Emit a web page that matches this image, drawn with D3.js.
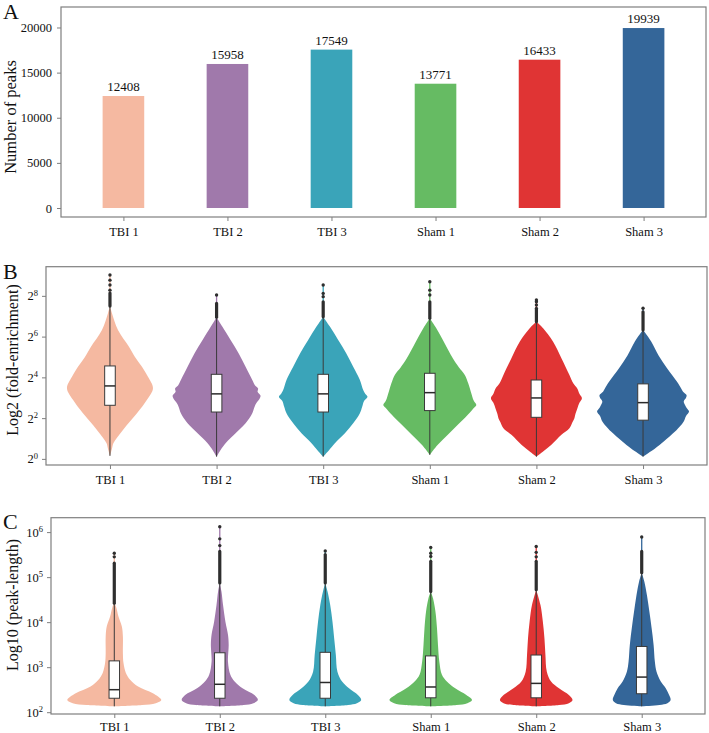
<!DOCTYPE html>
<html><head><meta charset="utf-8">
<script src="https://cdn.jsdelivr.net/npm/d3@7"></script>
<style>
body{margin:0;background:#fff}
text{font-family:"Liberation Serif","Times New Roman",serif;fill:#111}
</style>
</head><body><svg id="c" width="709" height="733"></svg>
<script>
const categories = ["TBI 1","TBI 2","TBI 3","Sham 1","Sham 2","Sham 3"];
const colors = ["#F5B9A1","#A079AB","#3AA4B9","#66BB63","#E03434","#346699"];

// Panel A
const peakCounts = [12408,15958,17549,13771,16433,19939];
const countTicks = [0,5000,10000,15000,20000];

// Panel B : log2(fold-enrichment)
const log2Ticks = [0,2,4,6,8];
// [whisker low, Q1, median, Q3, whisker high]
const foldBoxes = [
  [0.15,2.63,3.58,4.56,7.5],
  [0.11,2.30,3.19,4.15,6.95],
  [0.11,2.30,3.19,4.15,6.98],
  [0.2,2.37,3.25,4.2,6.9],
  [0.11,2.04,2.99,3.87,6.73],
  [0.11,1.90,2.76,3.68,6.32]
];
// [level, density]
const foldViolins = [
  [[0.15,0],[0.5,2],[0.78,3.5],[1.42,13],[2.24,27],[2.9,37],[3.47,43],[4.03,38],[4.52,32],[5.0,25],[5.5,19],[6.32,8],[7.15,2],[7.5,0]],
  [[0.11,0],[0.44,4],[0.77,9],[1.26,19],[1.75,29],[2.24,35.7],[2.56,38],[2.75,40],[2.95,43],[3.1,44],[3.3,41],[3.45,41.5],[3.6,38.5],[3.87,35.7],[4.52,29],[5.18,22],[5.83,14],[6.49,5.7],[6.95,0]],
  [[0.11,0],[0.44,6],[0.77,11.7],[1.26,21.7],[1.75,30],[2.24,36.7],[2.56,39],[2.85,41],[3.05,44.3],[3.2,42],[3.38,40],[3.87,36.7],[4.52,30],[5.18,23],[5.83,15],[6.49,6.7],[6.98,0]],
  [[0.2,0],[0.69,8],[1.18,18],[1.67,28],[2.16,38],[2.5,44],[2.65,46.5],[2.85,44],[3.3,41],[3.7,38.5],[4.12,35],[4.5,29],[4.94,23],[5.75,14],[6.41,6.5],[6.9,0]],
  [[0.11,0],[0.36,6.7],[0.69,15],[1.18,25],[1.5,33],[1.8,36],[2.0,38],[2.2,39],[2.49,41],[2.75,43],[2.98,45.5],[3.2,43],[3.47,40.7],[3.7,37],[4.12,33],[4.94,25],[5.75,16.7],[6.41,6.7],[6.73,0]],
  [[0.11,0],[0.52,12.3],[0.85,20.7],[1.34,32],[1.6,37],[1.83,40.7],[2.1,43],[2.32,46],[2.55,43],[2.81,40.7],[3.0,43],[3.14,43.5],[3.3,40],[3.47,38],[3.79,34],[4.45,24],[5.06,15.7],[5.75,8.3],[6.32,0]]
];
const foldOutlierRuns = [[7.5,8.14],[6.95,7.63],[6.98,7.71],[6.9,7.71],[6.73,7.39],[6.32,7.22]];
const foldOutliers = [[8.28,8.53,8.77,9.02],[8.04],[7.96,8.12,8.53],[8.04,8.28,8.69],[7.55,7.71,7.8],[7.39]];

// Panel C : log10(peak-length)
const log10Ticks = [2,3,4,5,6];
const lengthBoxes = [
  [2.13,2.31,2.5,3.14,4.42],
  [2.13,2.31,2.62,3.32,4.87],
  [2.13,2.31,2.66,3.33,4.87],
  [2.13,2.32,2.56,3.25,4.68],
  [2.13,2.32,2.64,3.27,4.72],
  [2.13,2.41,2.78,3.46,5.1]
];
const lengthViolins = [
  [[2.13,0],[2.16,28],[2.2,42],[2.27,47.5],[2.42,39],[2.57,24],[2.72,16],[2.87,11.7],[3.09,9.3],[3.31,8.7],[3.68,8.7],[3.9,7.7],[4.12,4.3],[4.35,1.7],[4.42,0]],
  [[2.13,0],[2.16,24],[2.2,34],[2.27,38.5],[2.38,35],[2.53,23],[2.68,15],[2.83,10.7],[3.12,8.3],[3.5,9],[3.72,8.3],[4.01,5.7],[4.38,3.3],[4.68,1.7],[4.87,0]],
  [[2.13,0],[2.16,23],[2.2,32],[2.27,36.3],[2.38,33],[2.53,24],[2.68,17],[2.9,12.3],[3.27,10.7],[3.64,9],[4.01,7.3],[4.38,5],[4.68,2.3],[4.87,0]],
  [[2.13,0],[2.16,26],[2.2,37],[2.27,41.7],[2.38,36],[2.53,24.7],[2.68,16.3],[2.83,11.3],[3.12,8.7],[3.5,7.3],[3.87,6.3],[4.24,4.7],[4.53,2.3],[4.68,0]],
  [[2.13,0],[2.16,23],[2.2,33],[2.27,36.7],[2.38,33],[2.53,23],[2.68,15],[2.9,10.7],[3.27,9.3],[3.64,8.3],[4.01,6.7],[4.38,4.3],[4.72,0]],
  [[2.13,0],[2.16,18],[2.2,26],[2.27,29.2],[2.38,27.7],[2.53,24.3],[2.68,19.3],[2.9,15],[3.12,13.3],[3.5,12],[3.87,10],[4.24,7.7],[4.6,5.3],[4.9,2.7],[5.1,0]]
];
const lengthOutlierRuns = [[4.42,5.31],[4.87,5.57],[4.87,5.5],[4.68,5.35],[4.72,5.35],[5.1,5.57]];
const lengthOutliers = [[5.45,5.53],[5.7,5.85,6.12],[5.58],[5.46,5.53,5.66],[5.45,5.55,5.68],[5.89]];

const svg = d3.select("#c");
const frameColor = "#7f7f7f";
const idx = d3.range(categories.length);

function frame(x0,y0,x1,y1){
  svg.append("rect").attr("x",x0).attr("y",y0).attr("width",x1-x0).attr("height",y1-y0)
    .attr("fill","none").attr("stroke",frameColor).attr("stroke-width",1.2);
}
function styleAxis(g){
  g.select(".domain").remove();
  g.selectAll(".tick line").attr("stroke",frameColor).attr("stroke-width",1);
  g.selectAll(".tick text").attr("fill","#111").style("font-family","'Liberation Serif','Times New Roman',serif").style("font-size","12.5px");
}
function xAxis(x, yPos, pad){
  const g = svg.append("g").attr("transform",`translate(0,${yPos})`)
    .call(d3.axisBottom(x).tickValues(idx).tickFormat(i=>categories[i]).tickSize(4).tickPadding(pad));
  styleAxis(g);
}
function panelLetter(t,x,y){
  svg.append("text").attr("x",x).attr("y",y).style("font-size","22px").text(t);
}
function yLabel(t,x,y,size){
  svg.append("text").attr("transform",`translate(${x},${y}) rotate(-90)`)
    .attr("text-anchor","middle").attr("dominant-baseline","central").style("font-size",size+"px").text(t);
}

// ---------- Panel A ----------
{
  const L=61,R=706,T=7,B=217;
  const x = d3.scaleLinear().domain([-0.6,5.6]).range([L,R]);
  const y = d3.scaleLinear().domain([-997,22271]).range([B,T]);
  const bw = x(0.4)-x(0);
  svg.append("g").selectAll("rect").data(peakCounts).join("rect")
    .attr("x",(d,i)=>x(i)-bw/2).attr("width",bw)
    .attr("y",d=>y(d)).attr("height",d=>y(0)-y(d))
    .attr("fill",(d,i)=>colors[i]);
  svg.append("g").selectAll("text").data(peakCounts).join("text")
    .attr("x",(d,i)=>x(i)).attr("y",d=>y(d)-5).attr("text-anchor","middle")
    .style("font-size","13px").text(d=>d);
  frame(L,T,R,B);
  const gy = svg.append("g").attr("transform",`translate(${L},0)`)
    .call(d3.axisLeft(y).tickValues(countTicks).tickFormat(d3.format("d")).tickSize(4).tickPadding(5));
  styleAxis(gy);
  xAxis(x,B,6);
  panelLetter("A",3,19);
  yLabel("Number of peaks",10,117,16.5);
}

function violinPanel(L,R,T,B,yDomain,ticks,base,violins,boxes,runs,outliers,pad){
  const x = d3.scaleLinear().domain([-0.6,5.6]).range([L,R]);
  const y = d3.scaleLinear().domain(yDomain).range([B,T]);
  const dens = d3.scaleLinear().domain([0,50]).range([0,0.469]);
  const g = svg.append("g");
  violins.forEach((v,i)=>{
    const area = d3.area().curve(d3.curveCatmullRom.alpha(0.5))
      .y(d=>y(d[0])).x0(d=>x(i-dens(d[1]))).x1(d=>x(i+dens(d[1])));
    const top = d3.max(outliers[i]);
    g.append("line").attr("x1",x(i)).attr("x2",x(i)).attr("y1",y(runs[i][0])).attr("y2",y(top))
      .attr("stroke",colors[i]).attr("stroke-width",1.3);
    g.append("path").attr("d",area(v)).attr("fill",colors[i]);
    const b = boxes[i];
    const bh = dens(5.3);
    g.append("line").attr("x1",x(i)).attr("x2",x(i)).attr("y1",y(b[0])).attr("y2",y(b[4]))
      .attr("stroke","#3a3a3a").attr("stroke-width",1);
    g.append("rect").attr("x",x(i-bh)).attr("width",x(i+bh)-x(i-bh))
      .attr("y",y(b[3])).attr("height",y(b[1])-y(b[3]))
      .attr("fill","#fff").attr("stroke","#3a3a3a").attr("stroke-width",1);
    g.append("line").attr("x1",x(i-bh)).attr("x2",x(i+bh)).attr("y1",y(b[2])).attr("y2",y(b[2]))
      .attr("stroke","#2a2a2a").attr("stroke-width",1.5);
    g.append("line").attr("x1",x(i)).attr("x2",x(i)).attr("y1",y(runs[i][0])).attr("y2",y(runs[i][1]))
      .attr("stroke","#2e2e2e").attr("stroke-width",3.2).attr("stroke-linecap","round");
    g.selectAll(null).data(outliers[i]).join("circle")
      .attr("cx",x(i)).attr("cy",d=>y(d)).attr("r",1.7).attr("fill","#2e2e2e");
  });
  frame(L,T,R,B);
  const gy = svg.append("g").attr("transform",`translate(${L},0)`)
    .call(d3.axisLeft(y).tickValues(ticks).tickSize(4).tickPadding(4));
  styleAxis(gy);
  gy.selectAll(".tick text").each(function(d){
    const t = d3.select(this); t.text("");
    t.append("tspan").text(base);
    t.append("tspan").attr("dy","-0.55em").style("font-size","8.5px").text(d);
  });
  xAxis(x,B,pad);
}

// ---------- Panel B ----------
violinPanel(46,707,266.7,465,[-0.3,9.43],log2Ticks,"2",foldViolins,foldBoxes,foldOutlierRuns,foldOutliers,6);
panelLetter("B",3,279);
yLabel("Log2 (fold-enrichment)",12.5,360,16);

// ---------- Panel C ----------
violinPanel(51,705,517.7,714,[1.96,6.32],log10Ticks,"10",lengthViolins,lengthBoxes,lengthOutlierRuns,lengthOutliers,4);
panelLetter("C",3,529);
yLabel("Log10 (peak-length)",12.5,605,16);
</script>
</body></html>
